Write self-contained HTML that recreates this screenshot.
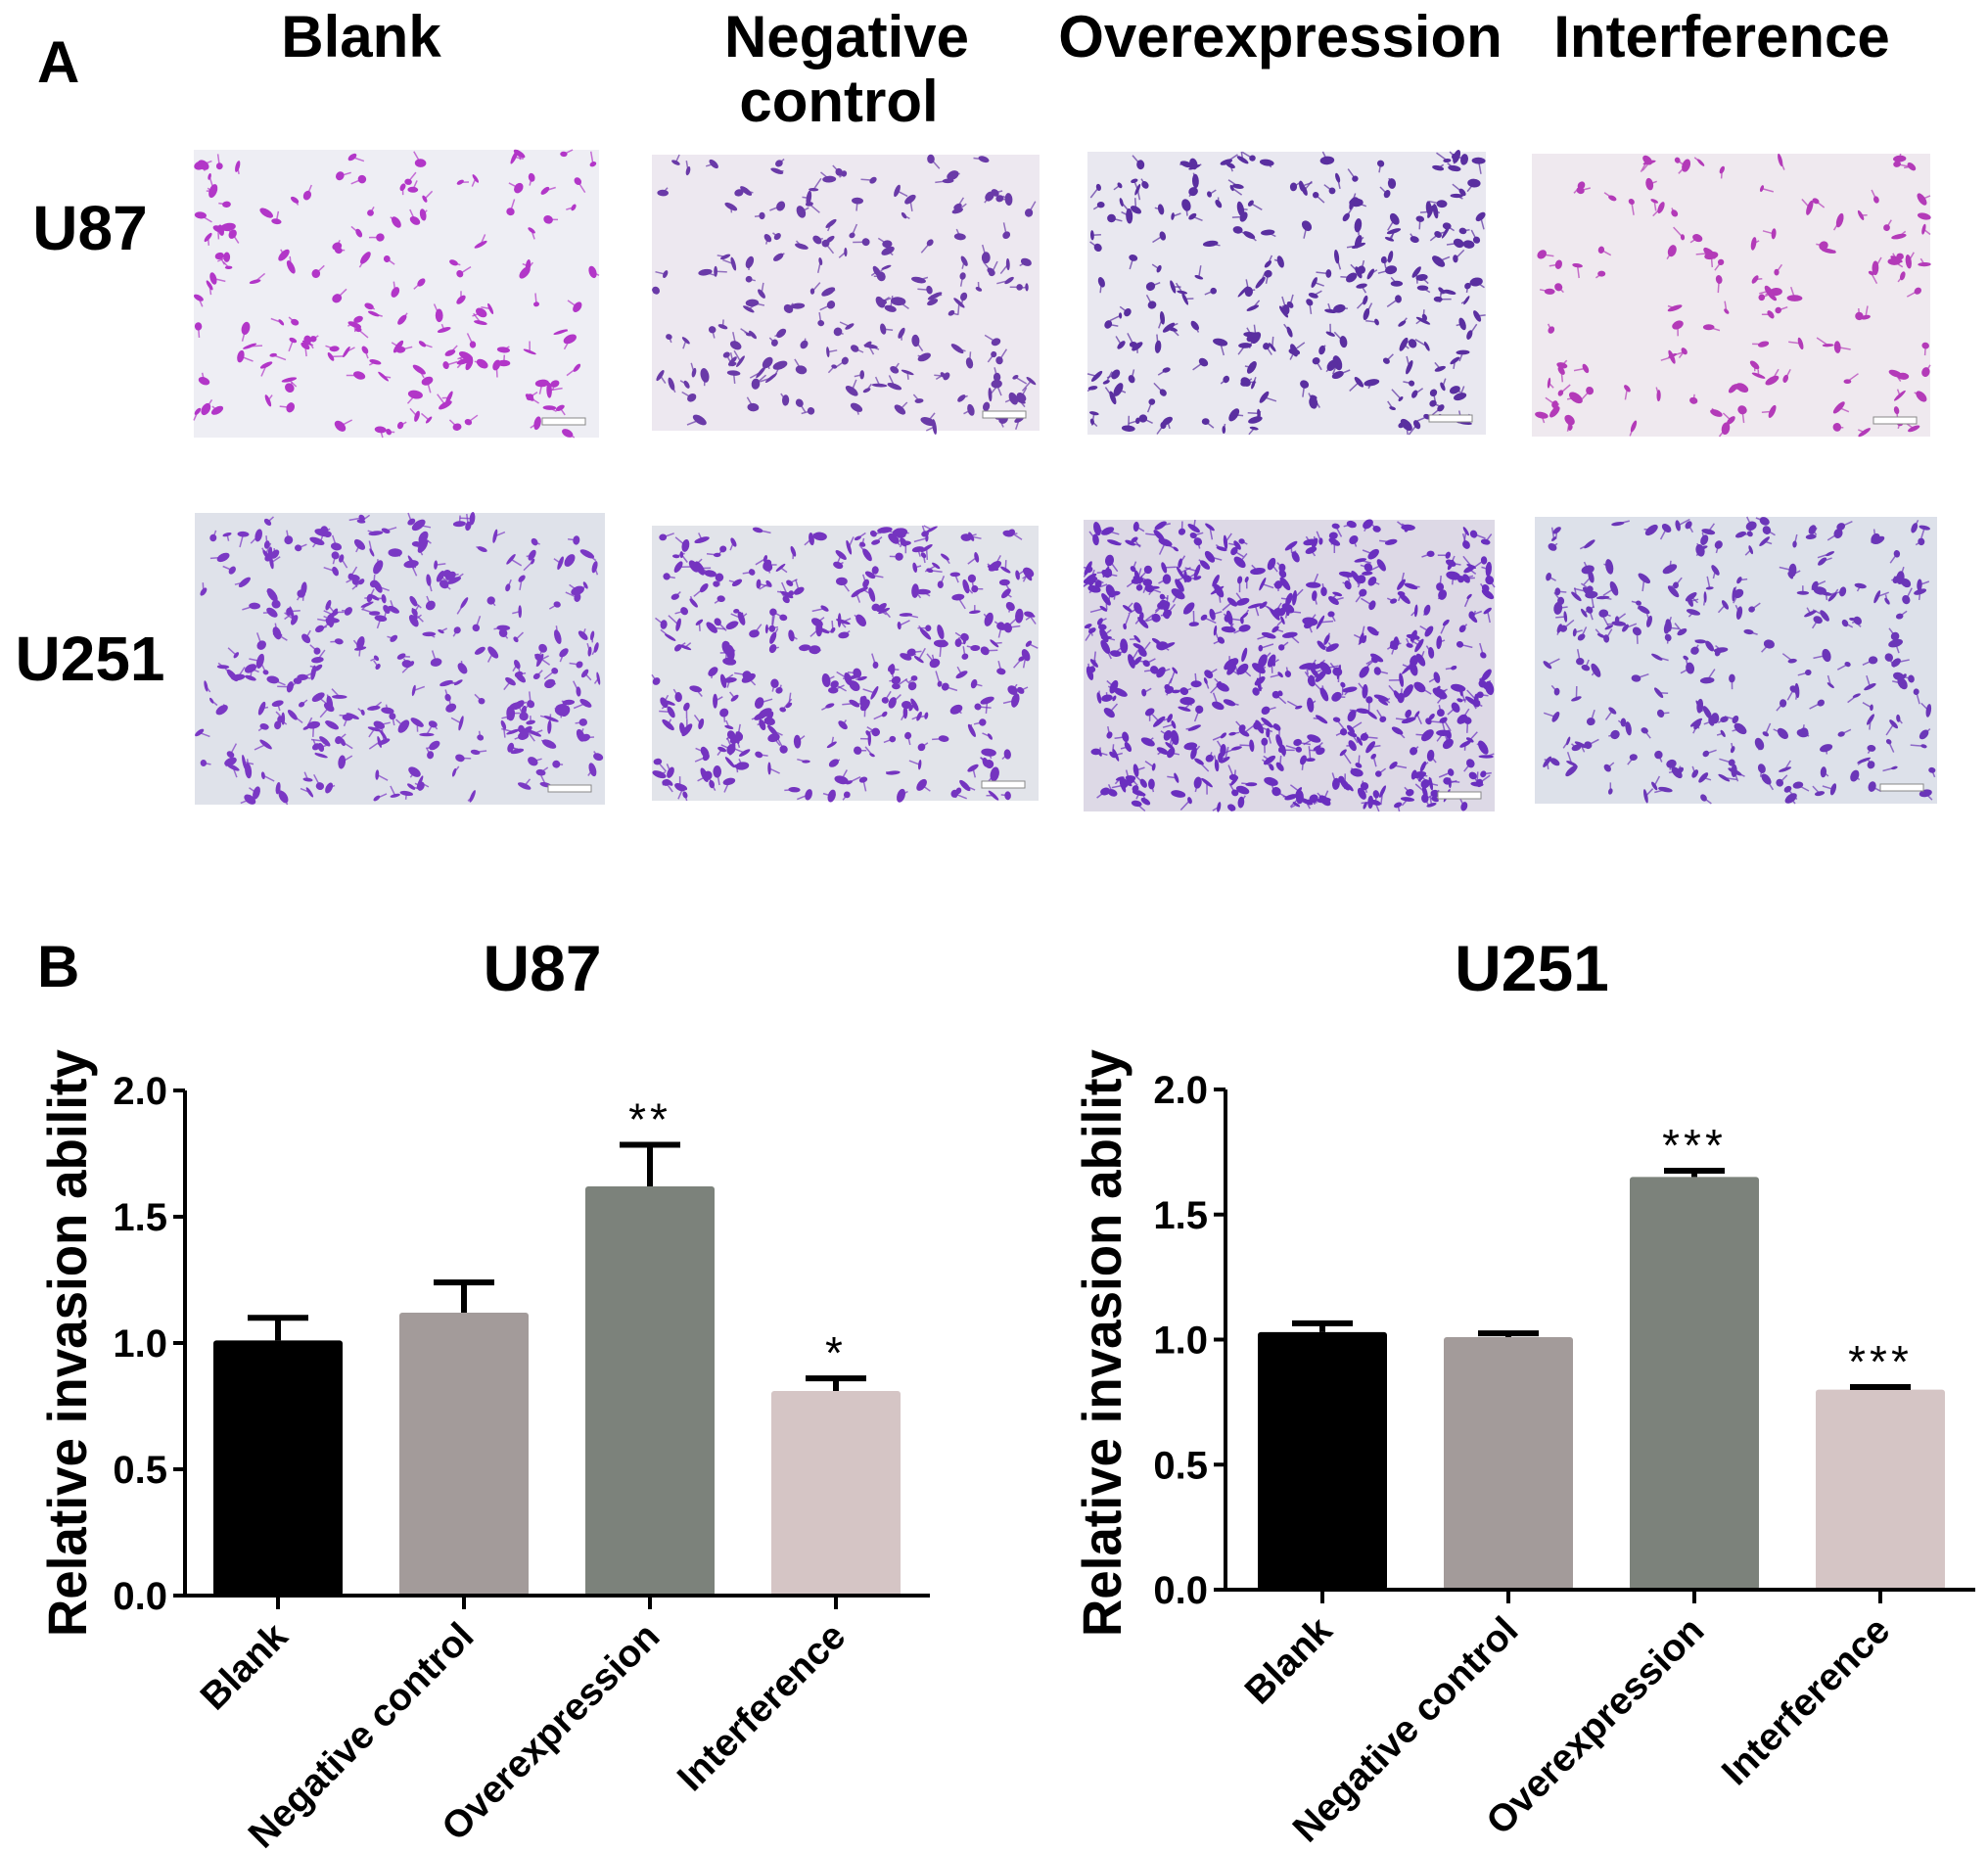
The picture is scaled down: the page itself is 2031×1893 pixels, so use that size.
<!DOCTYPE html>
<html><head><meta charset="utf-8"><style>
html,body{margin:0;padding:0;background:#fff;}
svg{display:block;font-family:"Liberation Sans",Arial,sans-serif;}
</style></head><body>
<svg id="fig" width="2031" height="1893" viewBox="0 0 2031 1893" xmlns="http://www.w3.org/2000/svg">
<text x="38" y="84" font-size="60" font-weight="bold">A</text>
<g font-size="60" font-weight="bold" text-anchor="middle">
<text x="369" y="58">Blank</text>
<text x="865" y="58">Negative</text>
<text x="857" y="124">control</text>
<text x="1308" y="58">Overexpression</text>
<text x="1759" y="58">Interference</text>
<text x="92" y="255" font-size="64">U87</text>
<text x="92" y="695" font-size="64">U251</text>
</g>
<g id="micro"></g>
<text x="38" y="1008" font-size="60" font-weight="bold">B</text>
<g id="charts"></g>
</svg>
<script>
// Chart data
const categories = ["Blank","Negative control","Overexpression","Interference"];
const u87Values = [1.01, 1.12, 1.62, 0.81];
const u87Errors = [0.09, 0.12, 0.165, 0.05];
const u87Stars = ["", "", "**", "*"];
const u251Values = [1.03, 1.01, 1.65, 0.80];
const u251Errors = [0.035, 0.015, 0.025, 0.01];
const u251Stars = ["", "", "***", "***"];
const yTicks = [0, 0.5, 1.0, 1.5, 2.0];
const yTickLabels = ["0.0","0.5","1.0","1.5","2.0"];
const barColors = ["#000000","#a39b9a","#7c827b","#d5c5c5"];

const NS = "http://www.w3.org/2000/svg";
function mk(tag, attrs, parent){const e=document.createElementNS(NS,tag);for(const k in attrs)e.setAttribute(k,attrs[k]);parent.appendChild(e);return e;}

// Micrographs (decorative)
const micro = document.getElementById('micro');
const panels = [
 [198,153,414,294,"#eeeef4","#b236c8",150],[666,158,396,282,"#ede8f0","#6a3aa8",170],
 [1111,155,407,289,"#e9e8f0","#5a2fa0",230],[1565,157,407,289,"#efe9ef","#b33ab8",120],
 [199,524,419,298,"#dfe2ea","#7a38c4",280],[666,537,395,281,"#e2e4ea","#7534c0",300],
 [1107,531,420,298,"#ddd9e6","#6a2fbf",480],[1568,528,411,293,"#dde1ea","#6b36b8",230]];
let seed = 7;
function rnd(){seed=(seed*16807)%2147483647;return seed/2147483647;}
panels.forEach((p,i)=>{
  const g = mk('g',{},micro);
  
  
  mk('rect',{x:p[0],y:p[1],width:p[2],height:p[3],fill:p[4]},g);
  for(let k=0;k<p[6];k++){
    const cx=p[0]+4+rnd()*(p[2]-8), cy=p[1]+4+rnd()*(p[3]-8);
    const rx=3+rnd()*5, ry=1.5+rnd()*3, a=rnd()*180;
    mk('ellipse',{cx:cx.toFixed(1),cy:cy.toFixed(1),rx:rx.toFixed(1),ry:ry.toFixed(1),fill:p[5],transform:`rotate(${a.toFixed(0)} ${cx.toFixed(1)} ${cy.toFixed(1)})`},g);
    const l=6+rnd()*8, b=rnd()*6.28;
    const x2=Math.min(Math.max(cx+l*Math.cos(b),p[0]),p[0]+p[2]), y2=Math.min(Math.max(cy+l*Math.sin(b),p[1]),p[1]+p[3]);
    mk('line',{x1:cx.toFixed(1),y1:cy.toFixed(1),x2:x2.toFixed(1),y2:y2.toFixed(1),stroke:p[5],'stroke-width':1.5,'stroke-opacity':0.7},g);
  }
  mk('rect',{x:p[0]+p[2]-58,y:p[1]+p[3]-20,width:44,height:7,fill:'#fff',stroke:'#888','stroke-width':1},g);
});

// Charts
const charts = document.getElementById('charts');
function drawChart(cfg){
  const g = mk('g',{},charts);
  
  
  const y0=cfg.y0, y2=cfg.y2;
  const yS = v => y0 - (v/2)*(y0-y2);
  const xC = i => cfg.axisX + cfg.firstOff + 190*i;
  const bw = 132;
  const t = mk('text',{x:cfg.titleX,y:1012,'font-size':66,'font-weight':'bold','text-anchor':'middle'},g);
  t.textContent = cfg.title;
  
  
  const yt = mk('text',{x:0,y:0,'font-size':56,'font-weight':'bold','text-anchor':'middle',textLength:600,lengthAdjust:'spacingAndGlyphs',transform:`translate(${cfg.yTitleX},1372) rotate(-90)`},g);
  yt.textContent = "Relative invasion ability";
  
  
  yTicks.forEach((v,i)=>{
    const tl = mk('line',{x1:cfg.axisX-12,x2:cfg.axisX,y1:yS(v),y2:yS(v),stroke:'#000','stroke-width':4},g);
    
    
    const lb = mk('text',{x:cfg.axisX-18,y:yS(v)+14,'font-size':40,'font-weight':'bold','text-anchor':'end'},g);
    lb.textContent = yTickLabels[i];
    
    
  });
  cfg.values.forEach((v,i)=>{
    const x=xC(i);
    const b = mk('rect',{x:x-bw/2,y:yS(v),width:bw,height:y0-yS(v),fill:barColors[i],rx:3},g);
    
    
    const top = yS(v+cfg.errors[i]);
    const e = mk('path',{d:`M${x},${yS(v)} V${top} M${x-31},${top} H${x+31}`,stroke:'#000','stroke-width':6,fill:'none'},g);
    
    
    if(cfg.stars[i]){
      const s = mk('text',{x:x,y:top-10,'font-size':46,'text-anchor':'middle','letter-spacing':4},g);
      s.textContent = cfg.stars[i];
      
      
    }
    const tk = mk('line',{x1:x,x2:x,y1:y0,y2:y0+14,stroke:'#000','stroke-width':4},g);
    
    
    const xl = mk('text',{x:0,y:0,'font-size':39,'font-weight':'bold','text-anchor':'end',transform:`translate(${x+12},${y0+44}) rotate(-45)`},g);
    xl.textContent = categories[i];
    
    
  });
  const ax = mk('path',{d:`M${cfg.axisX},${y2} V${y0} H${cfg.axisEnd}`,stroke:'#000','stroke-width':4,fill:'none'},g);
  
  
}
drawChart({name:'u87-chart',title:'U87',titleX:554,yTitleX:88,axisX:189,axisEnd:950,firstOff:95,y0:1630,y2:1114,values:u87Values,errors:u87Errors,stars:u87Stars});
drawChart({name:'u251-chart',title:'U251',titleX:1565,yTitleX:1145,axisX:1252,axisEnd:2018,firstOff:99,y0:1624,y2:1113,values:u251Values,errors:u251Errors,stars:u251Stars});
</script>
</body></html>
